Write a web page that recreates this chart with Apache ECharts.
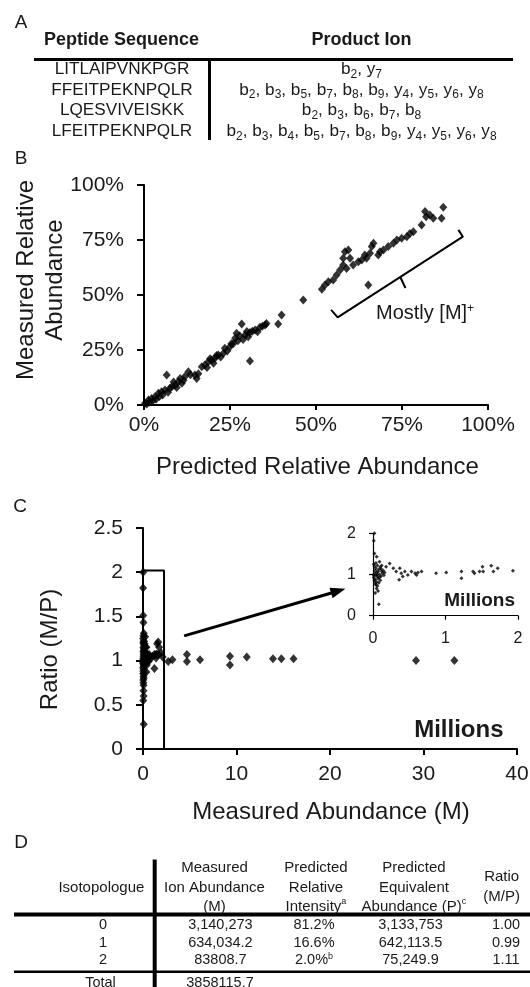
<!DOCTYPE html>
<html>
<head>
<meta charset="utf-8">
<script src="https://cdn.jsdelivr.net/npm/echarts@6/dist/echarts.min.js"></script>
<style>
  html, body { margin: 0; padding: 0; background: #fff; }
  #main { width: 530px; height: 987px; }
</style>
</head>
<body>
<div id="main"></div>
<script>
  // ---- panel A table ----
  const peptides = ['LITLAIPVNKPGR', 'FFEITPEKNPQLR', 'LQESVIVEISKK', 'LFEITPEKNPQLR']
  const productIons = [
    ['b2', 'y7'],
    ['b2', 'b3', 'b5', 'b7', 'b8', 'b9', 'y4', 'y5', 'y6', 'y8'],
    ['b2', 'b3', 'b6', 'b7', 'b8'],
    ['b2', 'b3', 'b4', 'b5', 'b7', 'b8', 'b9', 'y4', 'y5', 'y6', 'y8'],
  ]

  // ---- panel B: predicted vs measured relative abundance (%) ----
  const panelB = [
    [0.3, 0.8], [0.8, 0.4], [1.3, 2.3], [1.6, 1.2], [2.2, 3.0], [2.5, 1.8], [3.2, 3.8], [3.5, 2.6],
    [4.2, 5.3], [4.5, 3.9], [5.1, 6.0], [5.4, 4.6], [6.1, 6.8], [6.6, 13.6], [7.0, 5.8], [7.5, 7.6],
    [8.1, 8.3], [8.6, 10.5], [9.0, 9.1], [9.5, 7.9], [10.0, 10.6], [10.5, 12.0], [11.0, 9.9], [11.5, 11.2],
    [11.9, 12.9], [12.9, 15.1], [13.5, 13.8], [14.8, 13.6], [15.3, 12.1], [15.8, 14.2], [16.8, 17.4],
    [17.7, 18.2], [18.3, 17.0], [18.7, 19.7], [19.2, 21.0], [19.7, 20.5], [20.2, 19.0], [20.6, 21.2],
    [21.1, 22.5], [21.6, 22.7], [22.3, 21.8], [23.1, 23.5], [23.5, 25.8], [24.2, 24.6], [25.0, 26.5],
    [25.4, 27.8], [26.0, 28.0], [26.5, 30.3], [26.9, 32.6], [27.3, 29.2], [27.8, 31.5], [28.4, 36.8],
    [28.8, 29.8], [29.4, 31.8], [29.9, 33.4], [30.3, 31.0], [30.8, 32.9], [30.8, 20.0], [31.5, 33.5],
    [32.3, 34.1], [33.0, 33.3], [33.7, 35.3], [34.4, 35.8], [35.2, 36.4], [35.6, 37.0],
    [39.0, 36.8], [40.0, 40.9], [46.3, 47.7],
    [51.7, 52.6], [52.6, 54.5], [53.6, 56.0], [55.0, 56.8], [56.0, 59.1], [57.0, 61.4], [58.9, 62.1],
    [57.9, 63.6], [57.9, 66.7], [58.4, 69.7], [59.4, 70.5], [59.9, 66.7], [60.8, 63.6], [62.3, 65.1],
    [63.3, 65.9], [64.2, 68.2], [64.7, 66.7], [65.7, 69.0], [66.2, 72.0], [66.7, 73.5], [65.2, 54.5],
    [68.1, 68.2], [68.6, 69.7], [69.6, 70.5], [71.0, 72.0], [72.5, 73.5], [73.5, 75.0], [74.9, 75.8],
    [76.4, 76.5], [77.3, 78.0], [78.3, 78.8], [80.7, 81.8], [82.0, 85.6], [81.7, 87.9], [83.1, 86.4],
    [84.1, 84.9], [86.5, 84.9], [87.0, 89.9],
  ]
  const bracketB = [[54.4, 43.2], [56.3, 39.8], [92.7, 76.5], [91.4, 79.6]]
  const bracketTickB = [[74.5, 58.2], [76.0, 53.2]]

  // ---- panel C: measured abundance (millions) vs ratio M/P ----
  const panelC = [
    [0.02, 2.0], [0.01, 1.82], [0.02, 1.51], [0.05, 1.43], [0.09, 1.31], [0.08, 0.28], [0.05, 0.66],
    [0.04, 0.75], [0.07, 0.6], [0.03, 0.55], [0.01, 1.25], [0.02, 1.2], [0.04, 1.15], [0.06, 1.22],
    [0.03, 1.1], [0.05, 1.05], [0.08, 1.12], [0.1, 1.18], [0.12, 1.08], [0.02, 1.02], [0.04, 0.98],
    [0.06, 0.95], [0.01, 0.92], [0.03, 0.88], [0.07, 0.9], [0.09, 1.0], [0.11, 0.96], [0.13, 1.03],
    [0.02, 0.85], [0.05, 0.82], [0.03, 0.78], [0.08, 0.8], [0.06, 0.72], [0.1, 0.86], [0.14, 1.1],
    [0.15, 0.98], [0.04, 1.28], [0.07, 1.07], [0.09, 0.93], [0.11, 1.14], [0.01, 0.97], [0.12, 1.22],
    [0.06, 1.0], [0.16, 1.05],
    [0.23, 1.27], [0.18, 1.19], [0.28, 1.15], [0.32, 1.07], [0.37, 1.15], [0.39, 1.03], [0.44, 1.07],
    [0.36, 0.87], [0.41, 0.95], [0.48, 0.99], [0.53, 1.07], [0.58, 1.03], [0.62, 1.05], [0.67, 1.07],
    [0.6, 0.99], [0.87, 1.03], [1.01, 1.05], [1.22, 1.07], [1.22, 0.91], [1.38, 1.07], [1.4, 1.03],
    [1.47, 1.07], [1.51, 1.19], [1.52, 1.07], [1.63, 1.21], [1.66, 1.07], [1.72, 1.15], [1.93, 1.09],
    [2.1, 1.04], [2.7, 0.99], [3.15, 1.01], [4.7, 1.07], [4.7, 0.99], [6.1, 1.01], [9.3, 1.05],
    [9.3, 0.95], [11.1, 1.04], [13.9, 1.02], [14.8, 1.02], [16.1, 1.02], [29.2, 1.0], [33.3, 1.0],
  ]
  const zoomBoxC = [[0, 0], [0, 2.02], [2.25, 2.02], [2.25, 0]]
  const arrowC = [[4.4, 1.28], [21.6, 1.81]]

  // ---- panel D table ----
  const isotopologues = ['0', '1', '2']
  const measuredIon = ['3,140,273', '634,034.2', '83808.7']
  const predRelIntensity = ['81.2%', '16.6%', '2.0%{sup|b}']
  const predEquivalent = ['3,133,753', '642,113.5', '75,249.9']
  const ratioMP = ['1.00', '0.99', '1.11']
  const totalMeasured = '3858115.7'

  const FONT = 'Liberation Sans'
  const INK = '#1a1a1a'

  function txt(x, y, text, size, o) {
    o = o || {}
    return {
      type: 'text', x: x, y: y, silent: true,
      rotation: o.rot || 0,
      style: {
        text: text, fontSize: size, fontFamily: FONT, fontWeight: o.bold ? 'bold' : 'normal',
        fill: INK, align: o.align || 'center', verticalAlign: 'middle',
        textAlign: o.align || 'center', textVerticalAlign: 'middle',
        lineHeight: o.lh || undefined, rich: o.rich || undefined,
      },
    }
  }
  function rule(x1, y1, x2, y2, w) {
    return { type: 'line', silent: true, shape: { x1: x1, y1: y1, x2: x2, y2: y2 }, style: { stroke: '#000', lineWidth: w } }
  }
  const subRich = { sub: { fontSize: 12, lineHeight: 12, fontFamily: FONT, fill: INK, verticalAlign: 'bottom' } }
  const supRich = { sup: { fontSize: 9, lineHeight: 9, fontFamily: FONT, fill: INK, verticalAlign: 'top' } }

  let graphics = [
    txt(21, 23, 'A', 19), txt(21, 159, 'B', 19), txt(20, 507, 'C', 19), txt(21, 843, 'D', 19),
    txt(121.6, 40, 'Peptide Sequence', 18, { bold: true }),
    txt(361.5, 40, 'Product Ion', 18, { bold: true }),
    rule(34, 59.5, 513, 59.5, 3),
    rule(209.5, 59.5, 209.5, 140, 3),
  ]
  peptides.forEach(function (p, i) {
    const y = 69.5 + i * 20.6
    graphics.push(txt(122, y, p, 17.2))
    const ions = productIons[i].map(function (s) { return s[0] + '{sub|' + s.slice(1) + '}' }).join(', ')
    graphics.push(txt(361.5, y, ions, 17.2, { rich: subRich, lh: 22 }))
  })

  graphics.push(
    txt(40.5, 280, 'Measured Relative\nAbundance', 24, { rot: Math.PI / 2, lh: 29 }),
    txt(317.5, 467, 'Predicted Relative Abundance', 24),
    txt(376, 313, 'Mostly [M]{sup|+}', 20, { align: 'left', lh: 20,
      rich: { sup: { fontSize: 12, lineHeight: 12, fontFamily: FONT, fill: INK, verticalAlign: 'top' } } }),
    txt(50, 649.5, 'Ratio (M/P)', 24, { rot: Math.PI / 2 }),
    txt(331, 812, 'Measured Abundance (M)', 24),
    txt(503.5, 730.7, 'Millions', 24, { bold: true, align: 'right' }),
    txt(515, 601, 'Millions', 19, { bold: true, align: 'right' })
  )

  // panel D
  graphics.push(
    rule(154.7, 859.5, 154.7, 987, 4),
    rule(14, 914.5, 530, 914.5, 4),
    rule(14, 971.7, 530, 971.7, 2.5),
    txt(101.4, 887.6, 'Isotopologue', 15),
    txt(214.5, 887.6, 'Measured\nIon Abundance\n(M)', 15, { lh: 19.3 }),
    txt(315.9, 887.6, 'Predicted\nRelative\nIntensity{sup|a}', 15, { lh: 19.3, rich: supRich }),
    txt(413.9, 887.6, 'Predicted\nEquivalent\nAbundance (P){sup|c}', 15, { lh: 19.3, rich: supRich }),
    txt(501.7, 887, 'Ratio\n(M/P)', 15, { lh: 19.3 })
  )
  const rowsD = [924.7, 942.6, 960.2]
  isotopologues.forEach(function (iso, i) {
    const y = rowsD[i]
    graphics.push(
      txt(103, y, iso, 14.5),
      txt(220.4, y, measuredIon[i], 14.5),
      txt(314, y, predRelIntensity[i], 14.5, { rich: supRich, lh: 17 }),
      txt(410.5, y, predEquivalent[i], 14.5),
      txt(506, y, ratioMP[i], 14.5)
    )
  })
  graphics.push(txt(100.5, 982.5, 'Total', 14.5), txt(220, 982.5, totalMeasured, 14.5))

  function axisCommon(labelSize, margin, tickLen, lineW) {
    return {
      axisLine: { show: true, onZero: false, lineStyle: { color: '#000', width: lineW } },
      axisTick: { show: true, inside: false, length: tickLen, lineStyle: { color: '#000', width: lineW } },
      axisLabel: { fontFamily: FONT, fontSize: labelSize, color: INK, margin: margin },
      splitLine: { show: false },
    }
  }

  // arrow head: pull the triangle centre back along the shaft so its tip lands on the end point
  const pxPerX = 374 / 40, pxPerY = 221 / 2.5
  const adx = (arrowC[1][0] - arrowC[0][0]) * pxPerX
  const ady = (arrowC[1][1] - arrowC[0][1]) * pxPerY
  const alen = Math.sqrt(adx * adx + ady * ady)
  const headBack = 7
  const headCoord = [arrowC[1][0] - adx / alen * headBack / pxPerX, arrowC[1][1] - ady / alen * headBack / pxPerY]
  const headRotate = Math.atan2(ady, adx) * 180 / Math.PI - 90

  const chart = echarts.init(document.getElementById('main'), null, { renderer: 'canvas' })
  chart.setOption({
    animation: false,
    backgroundColor: '#fff',
    grid: [
      { left: 144, top: 185, width: 344, height: 220, outerBoundsMode: 'none' },
      { left: 143, top: 528, width: 374, height: 221, outerBoundsMode: 'none' },
      { left: 373, top: 533.3, width: 145, height: 82.4, outerBoundsMode: 'none' },
    ],
    xAxis: [
      Object.assign({ type: 'value', gridIndex: 0, min: 0, max: 100, interval: 25 }, axisCommon(21, 10, 5, 2),
        { axisLabel: { fontFamily: FONT, fontSize: 21, color: INK, margin: 10, formatter: '{value}%' } }),
      Object.assign({ type: 'value', gridIndex: 1, min: 0, max: 40, interval: 10 }, axisCommon(21, 15, 6, 2)),
      Object.assign({ type: 'value', gridIndex: 2, min: 0, max: 2, interval: 1 }, axisCommon(16, 15, 4, 1.2)),
    ],
    yAxis: [
      Object.assign({ type: 'value', gridIndex: 0, min: 0, max: 100, interval: 25 }, axisCommon(21, 20, 7, 2),
        { axisLabel: { fontFamily: FONT, fontSize: 21, color: INK, margin: 20, formatter: '{value}%' } }),
      Object.assign({ type: 'value', gridIndex: 1, min: 0, max: 2.5, interval: 0.5 }, axisCommon(21, 20, 7, 2)),
      Object.assign({ type: 'value', gridIndex: 2, min: 0, max: 2, interval: 1 }, axisCommon(16, 17, 4, 1.2)),
    ],
    graphic: { elements: graphics },
    series: [
      {
        type: 'line', xAxisIndex: 0, yAxisIndex: 0, data: bracketB, symbol: 'none', silent: true,
        lineStyle: { color: '#000', width: 2 },
      },
      {
        type: 'line', xAxisIndex: 0, yAxisIndex: 0, data: bracketTickB, symbol: 'none', silent: true,
        lineStyle: { color: '#000', width: 2 },
      },
      {
        type: 'scatter', xAxisIndex: 0, yAxisIndex: 0, data: panelB, symbol: 'diamond', symbolSize: [8, 9],
        itemStyle: { color: '#000' }, silent: true,
      },
      {
        type: 'line', xAxisIndex: 1, yAxisIndex: 1, data: zoomBoxC, symbol: 'none', silent: true,
        lineStyle: { color: '#000', width: 2 },
      },
      {
        type: 'line', xAxisIndex: 1, yAxisIndex: 1, data: [arrowC[0], headCoord], symbol: 'none', silent: true,
        lineStyle: { color: '#000', width: 3 },
        markPoint: {
          silent: true, symbol: 'triangle', symbolSize: [11, 15], symbolRotate: headRotate,
          itemStyle: { color: '#000' }, label: { show: false },
          data: [{ coord: headCoord }],
        },
      },
      {
        type: 'scatter', xAxisIndex: 1, yAxisIndex: 1, data: panelC, symbol: 'diamond', symbolSize: [8, 9],
        itemStyle: { color: '#000' }, silent: true,
      },
      {
        type: 'scatter', xAxisIndex: 2, yAxisIndex: 2, data: panelC.filter(function (p) { return p[0] <= 2 }),
        symbol: 'diamond', symbolSize: 4, clip: false, itemStyle: { color: '#000' }, silent: true,
      },
    ],
  })
</script>
</body>
</html>
